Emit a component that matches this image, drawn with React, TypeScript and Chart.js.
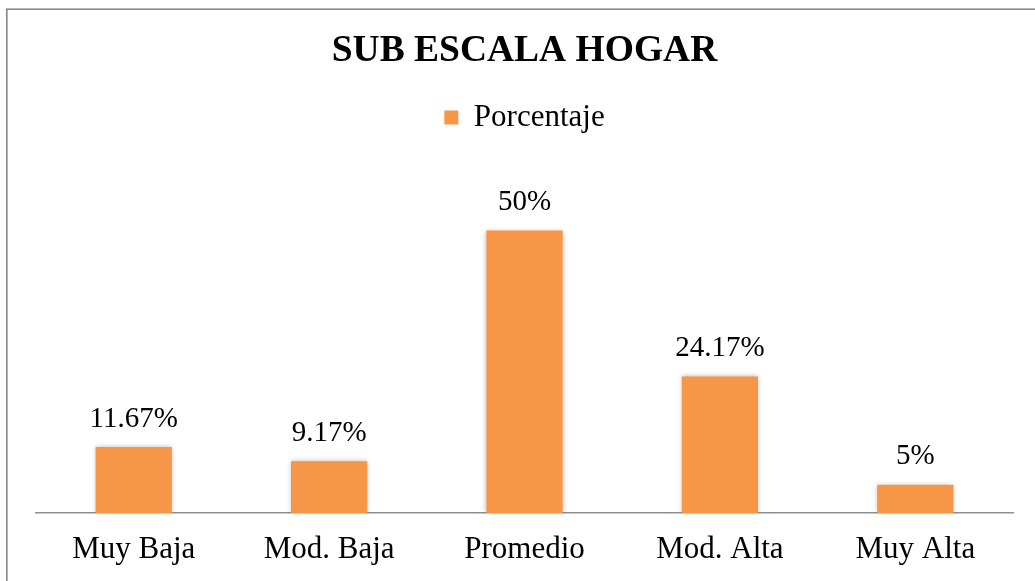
import React, { useEffect, useRef } from 'react';
import { Chart, registerables } from 'chart.js';

Chart.register(...registerables);

const categories = ['Muy Baja', 'Mod. Baja', 'Promedio', 'Mod. Alta', 'Muy Alta'];
const percentages = [11.67, 9.17, 50, 24.17, 5];
const valueLabels = ['11.67%', '9.17%', '50%', '24.17%', '5%'];
const seriesName = 'Porcentaje';
const chartTitle = 'SUB ESCALA HOGAR';
const yMin = 0;
const yMax = 60;

const FONT = "'Liberation Serif', 'Times New Roman', serif";
const BAR_COLOR = '#F79646';

const framePlugin = {
  id: 'frame',
  beforeDraw(chart: any) {
    const ctx = chart.ctx;
    ctx.save();
    ctx.fillStyle = '#ffffff';
    ctx.fillRect(0, 0, chart.width, chart.height);
    ctx.strokeStyle = '#878787';
    ctx.lineWidth = 1.6;
    ctx.strokeRect(6.8, 9.2, chart.width - 14, chart.height - 18);
    ctx.restore();
  },
};

const shadowPlugin = {
  id: 'barShadow',
  beforeDatasetsDraw(chart: any) {
    const ctx = chart.ctx;
    ctx.save();
    ctx.shadowColor = 'rgba(0,0,0,0.28)';
    ctx.shadowBlur = 5;
    ctx.shadowOffsetX = 0;
    ctx.shadowOffsetY = 0;
  },
  afterDatasetsDraw(chart: any) {
    chart.ctx.restore();
  },
};

const labelPlugin = {
  id: 'valueLabels',
  afterDatasetsDraw(chart: any) {
    const ctx = chart.ctx;
    const meta = chart.getDatasetMeta(0);
    ctx.save();
    ctx.font = `29px ${FONT}`;
    ctx.fillStyle = '#000000';
    ctx.textAlign = 'center';
    ctx.textBaseline = 'alphabetic';
    meta.data.forEach((bar: any, i: number) => {
      ctx.fillText(valueLabels[i], bar.x, bar.y - 20.5);
    });
    ctx.restore();
  },
};

export default function App() {
  const canvasRef = useRef<HTMLCanvasElement | null>(null);

  useEffect(() => {
    if (!canvasRef.current) return;
    const chart = new Chart(canvasRef.current, {
      type: 'bar',
      data: {
        labels: categories,
        datasets: [
          {
            label: seriesName,
            data: percentages,
            backgroundColor: BAR_COLOR,
            borderWidth: 0,
            barPercentage: 0.39,
            categoryPercentage: 1,
          },
        ],
      },
      options: {
        responsive: false,
        animation: false,
        devicePixelRatio: 1,
        layout: {
          padding: { top: 0, left: 36, right: 36, bottom: 13.4 },
        },
        plugins: {
          title: {
            display: true,
            text: chartTitle,
            color: '#000000',
            font: { family: FONT, size: 37.5, weight: 'bold' },
            padding: { top: 28.8, bottom: 10 },
          },
          subtitle: {
            display: true,
            text: ' ',
            weight: 500,
            font: { family: FONT, size: 10 },
            padding: { top: 10, bottom: 9 },
          } as any,
          legend: {
            display: true,
            position: 'top',
            labels: {
              color: '#000000',
              font: { family: FONT, size: 31 },
              boxWidth: 14,
              boxHeight: 14,
              padding: 18.2,
            },
          },
          tooltip: { enabled: false },
        },
        scales: {
          x: {
            grid: { display: false, drawTicks: false },
            border: { display: true, color: '#8f8f8f', width: 1.5 },
            ticks: {
              color: '#000000',
              font: { family: FONT, size: 31 },
              padding: 18.2,
              maxRotation: 0,
              autoSkip: false,
            },
          },
          y: {
            display: false,
            min: yMin,
            max: yMax,
          },
        },
      },
      plugins: [framePlugin, shadowPlugin, labelPlugin],
    });
    return () => chart.destroy();
  }, []);

  return (
    <div
      style={{
        position: 'fixed',
        left: 0,
        top: 0,
        width: 1035,
        height: 581,
        overflow: 'hidden',
        background: '#ffffff',
      }}
    >
      <canvas
        ref={canvasRef}
        width={1049}
        height={600}
        style={{ display: 'block', width: 1049, height: 600 }}
      />
    </div>
  );
}
